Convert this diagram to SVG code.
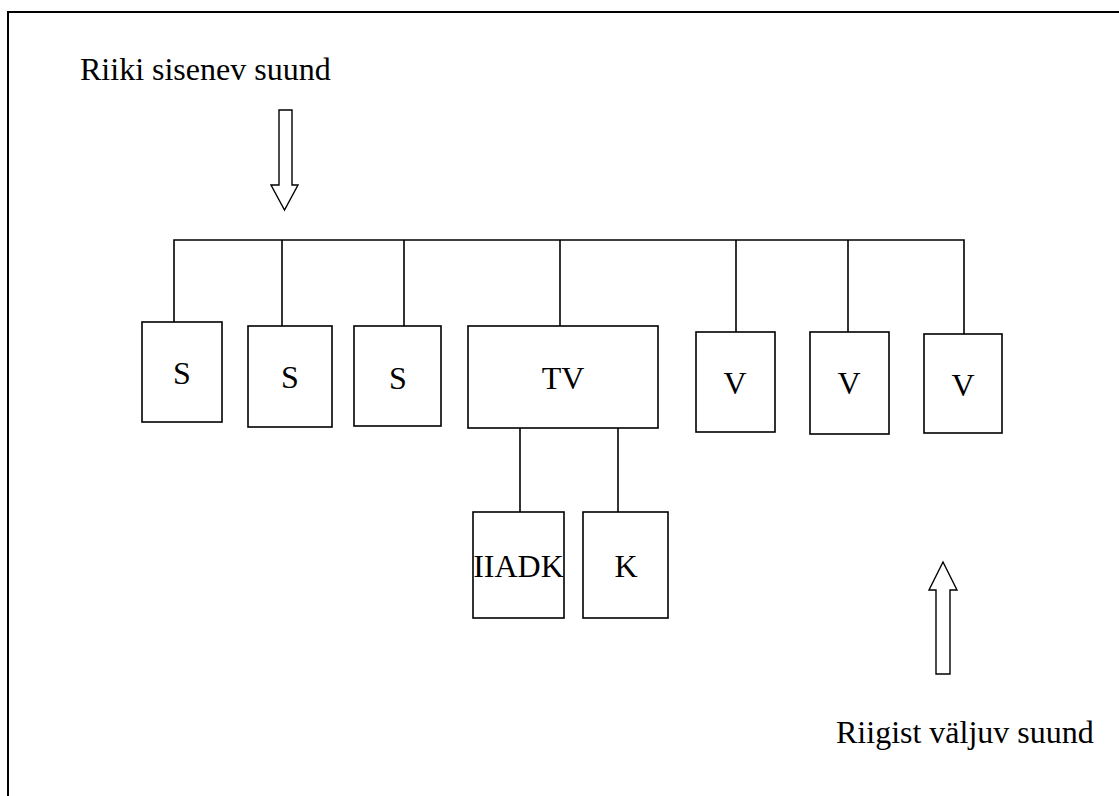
<svg xmlns="http://www.w3.org/2000/svg" width="1119" height="796" viewBox="0 0 1119 796">
  <style>
    .box { fill: #fff; stroke: #000; stroke-width: 1.6; }
    .wire { fill: none; stroke: #000; stroke-width: 1.6; }
    .arrow { fill: #fff; stroke: #000; stroke-width: 1.4; stroke-linejoin: miter; }
    text { font-family: 'Liberation Serif', 'DejaVu Serif', serif; font-size: 32px; fill: #000; }
    .lbl { text-anchor: middle; }
  </style>
  <rect width="1119" height="796" fill="#fff"/>
  <!-- outer frame, extends past the right and bottom edges -->
  <rect x="8" y="12" width="1130" height="800" fill="none" stroke="#000" stroke-width="2"/>

  <text x="80" y="80" font-family="Liberation Serif, serif">Riiki sisenev suund</text>
  <text x="836" y="743" font-family="Liberation Serif, serif">Riigist väljuv suund</text>

  <!-- direction arrows -->
  <g id="arrow-in">
    <polygon class="arrow" points="279,110 292,110 292,185 298,185 284.5,210 271,185 279,185"/>
  </g>
  <g id="arrow-out">
    <polygon class="arrow" points="936,674 950,674 950,590 957,590 943,562 929,590 936,590"/>
  </g>

  <!-- connectors -->
  <g id="connectors">
    <path class="wire" d="M174,322 V240 H964 V334"/>
    <path class="wire" d="M282,240 V326"/>
    <path class="wire" d="M404,240 V326"/>
    <path class="wire" d="M560,240 V326"/>
    <path class="wire" d="M736,240 V332"/>
    <path class="wire" d="M848,240 V332"/>
    <path class="wire" d="M520,428 V512"/>
    <path class="wire" d="M618,428 V512"/>
  </g>

  <g id="s1"><rect class="box" x="142" y="322" width="80" height="100"/><text class="lbl" x="182" y="384" font-family="Liberation Serif, serif">S</text></g>
  <g id="s2"><rect class="box" x="248" y="326" width="84" height="101"/><text class="lbl" x="290" y="388" font-family="Liberation Serif, serif">S</text></g>
  <g id="s3"><rect class="box" x="354" y="326" width="87" height="100"/><text class="lbl" x="398" y="389" font-family="Liberation Serif, serif">S</text></g>
  <g id="tv"><rect class="box" x="468" y="326" width="190" height="102"/><text class="lbl" x="563" y="389" font-family="Liberation Serif, serif">TV</text></g>
  <g id="v1"><rect class="box" x="696" y="332" width="79" height="100"/><text class="lbl" x="735" y="394" font-family="Liberation Serif, serif">V</text></g>
  <g id="v2"><rect class="box" x="810" y="332" width="79" height="102"/><text class="lbl" x="849" y="394" font-family="Liberation Serif, serif">V</text></g>
  <g id="v3"><rect class="box" x="924" y="334" width="78" height="99"/><text class="lbl" x="963" y="396" font-family="Liberation Serif, serif">V</text></g>
  <g id="iiadk"><rect class="box" x="473" y="512" width="91" height="106"/><text class="lbl" x="518.5" y="577" font-family="Liberation Serif, serif">IIADK</text></g>
  <g id="k"><rect class="box" x="583" y="512" width="85" height="106"/><text class="lbl" x="626" y="577" font-family="Liberation Serif, serif">K</text></g>
</svg>
